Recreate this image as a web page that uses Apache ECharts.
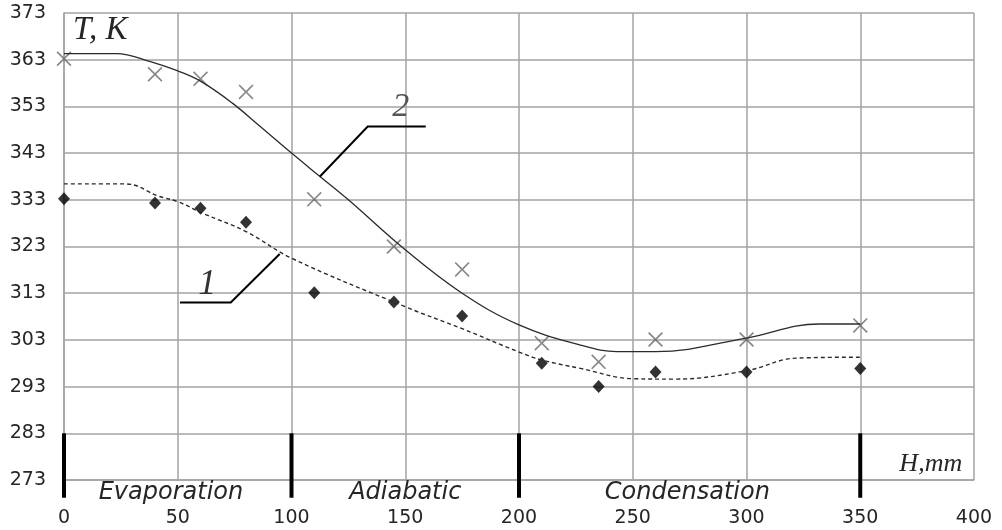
<!DOCTYPE html>
<html>
<head>
<meta charset="utf-8">
<script src="https://cdn.jsdelivr.net/npm/echarts@6/dist/echarts.min.js"></script>
<style>
  html, body { margin: 0; padding: 0; background: #fff; }
  #chart { width: 1002px; height: 530px; }
</style>
</head>
<body>
<div id="chart"></div>
<script>
// measured points, H (mm)
const heights = [0, 40, 60, 80, 110, 145, 175, 210, 235, 260, 300, 350]
const tempMeas2 = [363.2, 359.9, 358.9, 356.1, 333.1, 323.0, 318.1, 302.3, 298.3, 303.1, 303.1, 306.1]
const tempMeas1 = [333.2, 332.3, 331.2, 328.2, 313.1, 311.1, 308.1, 298.0, 293.0, 296.1, 296.1, 296.9]

// calculated curves [H, T]
const curve2 = [[0, 364.3], [23, 364.3], [38, 362.6], [50, 360.6], [60, 358.4], [74, 353.7], [86, 348.8],
  [100, 343], [112.5, 338], [125, 333], [150, 322.3], [175, 313], [200, 306.2], [227, 301.9],
  [243, 300.5], [260, 300.5], [300, 303.4], [332, 306.4], [350, 306.4]]
const curve1 = [[0, 336.4], [27, 336.4], [42, 333.7], [50, 332.6], [61, 330.1], [80, 326.2], [100, 320.5],
  [150, 310.1], [175, 305.4], [200, 300.4], [210, 298.7], [227, 296.9], [250, 294.7], [268, 294.6],
  [300, 296.4], [322, 299.1], [350, 299.3]]

// zone boundaries and names
const zoneBounds = [0, 100, 200, 350]
const zoneNames = ['Evaporation', 'Adiabatic', 'Condensation']
const zoneNameAt = [47, 150, 274]

const xTicks = [0, 50, 100, 150, 200, 250, 300, 350, 400]
const yTicks = [273, 283, 293, 303, 313, 323, 333, 343, 353, 363, 373]

// curve labels with leader lines
const leader2 = [[112.5, 338], [133.5, 348.7], [159, 348.7]]
const leader1 = [[94.8, 321.4], [73.3, 311], [51, 311]]

const chart = echarts.init(document.getElementById('chart'), null, { renderer: 'canvas' })

const gridColor = '#a3a3a3'
const txt = '#262626'

const cross = 'path://M0,0.8L0.8,0L5,4.2L9.2,0L10,0.8L5.8,5L10,9.2L9.2,10L5,5.8L0.8,10L0,9.2L4.2,5Z'

chart.setOption({
  animation: false,
  backgroundColor: '#fff',
  grid: { left: 64, right: 28, top: 13, bottom: 50 },
  xAxis: {
    type: 'value',
    min: xTicks[0],
    max: xTicks[xTicks.length - 1],
    interval: 50,
    axisLine: { show: true, lineStyle: { color: gridColor, width: 1.5 } },
    axisTick: { show: false },
    axisLabel: { color: txt, fontSize: 19, fontFamily: 'DejaVu Sans', margin: 29 },
    splitLine: { show: true, lineStyle: { color: gridColor, width: 1.5 } }
  },
  yAxis: {
    type: 'value',
    min: yTicks[0],
    max: yTicks[yTicks.length - 1],
    interval: 10,
    axisLine: { show: true, lineStyle: { color: gridColor, width: 1.5 } },
    axisTick: { show: false },
    axisLabel: { color: txt, fontSize: 19, fontFamily: 'DejaVu Sans', margin: 18 },
    splitLine: { show: true, lineStyle: { color: gridColor, width: 1.5 } }
  },
  series: [
    {
      type: 'line',
      data: curve2,
      smooth: 0.4,
      showSymbol: false,
      lineStyle: { color: '#2b2b2b', width: 1.3 },
      silent: true
    },
    {
      type: 'line',
      data: curve1,
      smooth: 0.4,
      showSymbol: false,
      lineStyle: { color: '#2b2b2b', width: 1.4, type: [4, 3] },
      silent: true
    },
    {
      type: 'scatter',
      data: heights.map((h, i) => [h, tempMeas2[i]]),
      symbol: cross,
      symbolSize: 15,
      itemStyle: { color: '#6a6a6a' }
    },
    {
      type: 'scatter',
      data: heights.map((h, i) => [h, tempMeas1[i]]),
      symbol: 'diamond',
      symbolSize: [12, 13],
      itemStyle: { color: '#000' }
    }
  ]
})

const px = p => chart.convertToPixel({ gridIndex: 0 }, p)

const graphics = []

zoneBounds.forEach(h => {
  const a = px([h, 283])
  const b = px([h, 269.2])
  graphics.push({
    type: 'line',
    shape: { x1: a[0], y1: a[1], x2: b[0], y2: b[1] },
    style: { stroke: '#000', lineWidth: 4 },
    z: 10
  })
})

zoneNames.forEach((name, i) => {
  const p = px([zoneNameAt[i], 270.2])
  graphics.push({
    type: 'text',
    style: {
      text: name, x: p[0], y: p[1], align: 'center', verticalAlign: 'middle',
      fill: txt, fontSize: 24, fontFamily: 'DejaVu Sans', fontStyle: 'italic'
    },
    z: 10
  })
})

;[leader2, leader1].forEach(pts => {
  graphics.push({
    type: 'polyline',
    shape: { points: pts.map(px) },
    style: { stroke: '#000', lineWidth: 2, fill: null },
    z: 10
  })
})

const labels = [
  { text: '2', at: [148, 352.8], size: 34, color: '#555' },
  { text: '1', at: [63, 314.8], size: 36, color: '#333' },
  { text: 'T, K', at: [4, 369.2], size: 33, color: txt, left: true },
  { text: 'H,mm', at: [381, 276.4], size: 26, color: txt }
]
labels.forEach(l => {
  const p = px(l.at)
  graphics.push({
    type: 'text',
    style: {
      text: l.text, x: p[0], y: p[1], align: l.left ? 'left' : 'center', verticalAlign: 'middle',
      fill: l.color, fontSize: l.size, fontFamily: 'Liberation Serif', fontStyle: 'italic'
    },
    z: 10
  })
})

chart.setOption({ graphic: graphics })
</script>
</body>
</html>
